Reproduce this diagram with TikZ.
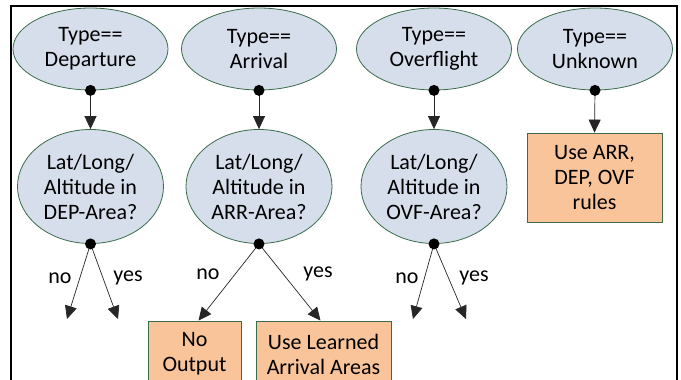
\documentclass[tikz,border=0pt]{standalone}
\usepackage{fontspec}
\setmainfont{Carlito}
\usetikzlibrary{shapes.geometric,arrows.meta}
\definecolor{efill}{HTML}{D5DEEA}
\definecolor{edraw}{HTML}{3B6B4B}
\definecolor{bfill}{HTML}{F9C49A}
\begin{document}
\begin{tikzpicture}[x=1pt,y=-1pt,
  txt/.style={font=\fontsize{22}{25}\selectfont},
  ell/.style={ellipse, draw=edraw, fill=efill, line width=0.8pt, inner sep=0pt, align=center, txt},
  topell/.style={ell, minimum width=155, minimum height=82},
  lowell/.style={ell, minimum width=146, minimum height=114},
  box/.style={rectangle, draw=edraw, fill=bfill, line width=0.8pt, inner sep=0pt, align=center, txt},
  arr/.style={-{Triangle[length=13pt,width=12pt]}, line width=0.7pt, draw=black!85},
  lbl/.style={txt, inner sep=0pt}]
\clip (0,0) rectangle (681,380);
\fill[white] (0,0) rectangle (681,380);
\draw[line width=2.5pt] (11,385) -- (11,6) -- (677,6) -- (677,385);

\node[topell] (t1) at (90.5,49) {Type==\\Departure};
\node[topell] (t2) at (259,49) {Type==\\Arrival};
\node[topell] (t3) at (434,49) {Type==\\Overflight};
\node[topell] (t4) at (595,49) {Type==\\Unknown};

\node[lowell] (m1) at (90.5,186.5) {Lat/Long/\\Altitude in\\DEP-Area?};
\node[lowell] (m2) at (259,186.5) {Lat/Long/\\Altitude in\\ARR-Area?};
\node[lowell] (m3) at (434,186.5) {Lat/Long/\\Altitude in\\OVF-Area?};

\node[box, minimum width=135, minimum height=89] (u) at (594.5,177.5) {Use ARR,\\DEP, OVF\\rules};
\node[box, minimum width=93, minimum height=66] (no) at (194.5,354) {No\\Output};
\node[box, minimum width=135, minimum height=66] (yes) at (323.5,354) {Use Learned\\Arrival Areas};

\coordinate (n1) at (67,319);
\coordinate (y1) at (118,319);
\coordinate (n3) at (413,319);
\coordinate (y3) at (466,319);

\foreach \a/\b in {t1/m1, t2/m2, t3/m3}{
  \draw[arr] (\a.south) -- (\b.north);
  \fill (\a.south) circle (5.5pt);
}
\draw[arr] (t4.south) -- (u.north);
\fill (t4.south) circle (5.5pt);

\draw[arr] (m1.south) -- (n1);
\draw[arr] (m1.south) -- (y1);
\draw[arr] (m2.south) -- ([xshift=4pt]no.north);
\draw[arr] (m2.south) -- ([xshift=-3pt]yes.north);
\draw[arr] (m3.south) -- (n3);
\draw[arr] (m3.south) -- (y3);
\foreach \m in {m1,m2,m3} \fill (\m.south) circle (5.5pt);

\node[lbl] (l1) at (60,278) {no};
\node[lbl] (l2) at (128,278) {yes};
\node[lbl] (l3) at (208,274) {no};
\node[lbl] (l4) at (318,274) {yes};
\node[lbl] (l5) at (407,278) {no};
\node[lbl] (l6) at (474,278) {yes};
\end{tikzpicture}
\end{document}
